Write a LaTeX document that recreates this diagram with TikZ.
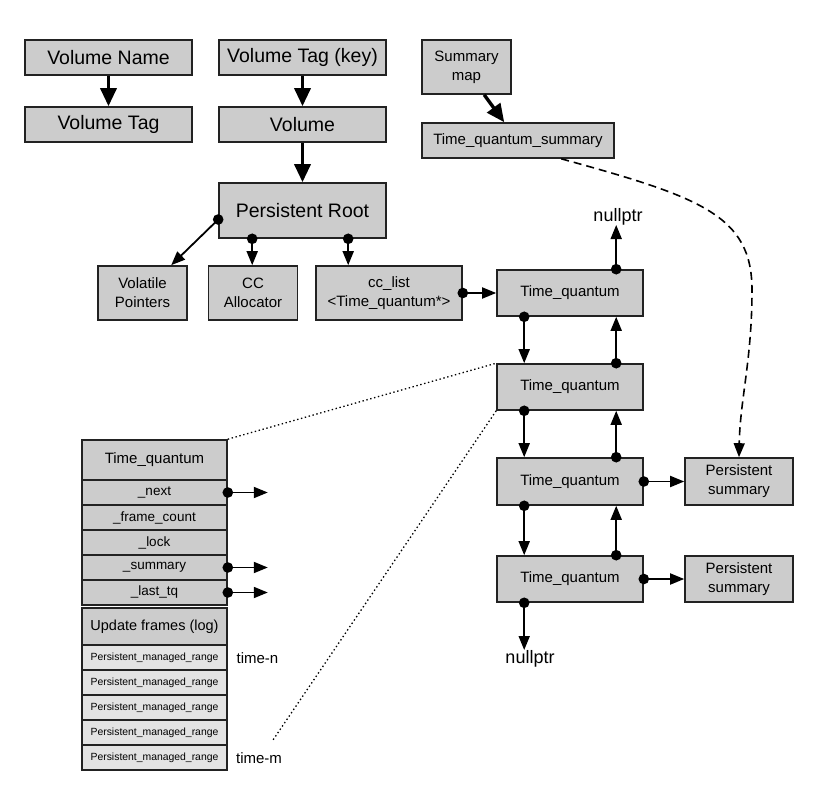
\documentclass[tikz,border=0pt]{standalone}
\usepackage{fontspec}
\setmainfont{Liberation Sans}
\usetikzlibrary{arrows.meta,calc}
\definecolor{boxgray}{HTML}{CCCCCC}
\definecolor{rowgray}{HTML}{E3E3E3}
\definecolor{edgec}{HTML}{222222}
\begin{document}
\begin{tikzpicture}[x=1pt,y=-1pt,
  box/.style={draw=edgec, fill=boxgray, line width=1.6pt, inner sep=0pt, align=center, text=black},
  lbox/.style={box, fill=rowgray},
  sz/.style 2 args={minimum width=#1pt, minimum height=#2pt},
  big/.style={font=\fontsize{19.5}{23}\selectfont},
  mid/.style={font=\fontsize{15}{19}\selectfont},
  fld/.style={font=\fontsize{13.5}{16}\selectfont},
  tiny/.style={font=\fontsize{10.4}{12}\selectfont},
  nul/.style={font=\fontsize{18}{20}\selectfont, inner sep=0pt},
  lbl/.style={font=\fontsize{15}{18}\selectfont, inner sep=0pt},
  heavy/.style={line width=3.4pt, draw=black, -{Triangle[length=18pt,width=16pt]}},
  ptr/.style={line width=1.8pt, draw=black, {Circle[length=10.5pt]}-{Triangle[length=14pt,width=11pt]}, shorten <=-5.25pt},
  dashptr/.style={line width=1.6pt, draw=black, dash pattern=on 8pt off 5pt, -{Triangle[length=14pt,width=11pt]}},
  dots/.style={line width=1.3pt, draw=black, dash pattern=on 1.4pt off 2.6pt}
]
\useasboundingbox (0,0) rectangle (830,808);

% top-left group
\node[box,big,sz={167}{35}] (vname) at (108.5,57.5) {Volume Name};
\node[box,big,sz={167}{35}] (vtag) at (108.5,124.5) {Volume Tag};
\node[box,big,sz={167}{35}] (vtkey) at (302.5,57.5) {Volume Tag (key)};
\node[box,big,sz={167}{35}] (vol) at (302.5,124.5) {Volume};
\node[box,big,sz={167}{55}] (proot) at (302.5,210.5) {Persistent Root};
\node[box,mid,sz={89}{54}] (vptr) at (142.5,293) {Volatile\\Pointers};
\node[box,mid,sz={89}{54}] (cca) at (253,293) {CC\\Allocator};
\node[box,mid,sz={146}{54}] (cclist) at (389,293) {cc\_list\\<Time\_quantum*>};

% summary
\node[box,mid,sz={89}{54}] (smap) at (466.5,67) {Summary\\map};
\node[box,mid,sz={192}{35}] (tqs) at (518,140.5) {Time\_quantum\_summary};

% chain
\node[box,mid,sz={146}{46}] (tq1) at (570,293) {Time\_quantum};
\node[box,mid,sz={146}{46}] (tq2) at (570,387) {Time\_quantum};
\node[box,mid,sz={146}{47}] (tq3) at (570,481.5) {Time\_quantum};
\node[box,mid,sz={146}{46}] (tq4) at (570,579) {Time\_quantum};
\node[box,mid,sz={108}{47}] (ps1) at (739,481.5) {Persistent\\summary};
\node[box,mid,sz={108}{46}] (ps2) at (739,579) {Persistent\\summary};
\node[nul,anchor=south] (null1) at (618,225) {nullptr};
\node[nul,anchor=north] (null2) at (530,650) {nullptr};

% table
\node[box,mid,sz={145}{40}] (th) at (154.5,460) {Time\_quantum};
\node[box,fld,sz={145}{25}] (fnext) at (154.5,492.5) {\_next};
\node[box,fld,sz={145}{25}] (ffc) at (154.5,517.5) {\_frame\_count};
\node[box,fld,sz={145}{25}] (flock) at (154.5,542.5) {\_lock};
\node[box,fld,sz={145}{25}] (fsum) at (154.5,567.5) {\_summary};
\node[box,fld,sz={145}{25}] (flast) at (154.5,592.5) {\_last\_tq};
\node[box,font=\fontsize{14.5}{17}\selectfont,sz={145}{37}] (uf) at (154.5,626.5) {Update frames (log)};
\node[lbox,tiny,sz={145}{25}] (r1) at (154.5,657.5) {Persistent\_managed\_range};
\node[lbox,tiny,sz={145}{25}] (r2) at (154.5,682.5) {Persistent\_managed\_range};
\node[lbox,tiny,sz={145}{25}] (r3) at (154.5,707.5) {Persistent\_managed\_range};
\node[lbox,tiny,sz={145}{25}] (r4) at (154.5,732.5) {Persistent\_managed\_range};
\node[lbox,tiny,sz={145}{25}] (r5) at (154.5,757.5) {Persistent\_managed\_range};
\node[lbl] (tn) at (257.5,658) {time-n};
\node[lbl] (tm) at (259,758) {time-m};

% anchor points
\coordinate (pa) at ($(proot.west)+(0,9)$);
\coordinate (pb) at ($(proot.south west)+(34,0)$);
\coordinate (pc) at ($(proot.south west)+(130,0)$);
\coordinate (vpt) at ($(vptr.north west)+(74,0)$);
\coordinate (sma) at ($(smap.south west)+(63,0)$);
\coordinate (tqa) at ($(tqs.north west)+(83,0)$);
\coordinate (tqb) at ($(tqs.south west)+(140,0)$);
\foreach \i in {1,2,3,4}{
  \coordinate (d\i t) at ($(tq\i.north west)+(28,0)$);
  \coordinate (d\i b) at ($(tq\i.south west)+(28,0)$);
  \coordinate (u\i t) at ($(tq\i.north west)+(120,0)$);
  \coordinate (u\i b) at ($(tq\i.south west)+(120,0)$);
}

% heavy arrows
\draw[heavy] (vname) -- (vtag);
\draw[heavy] (vtkey) -- (vol);
\draw[heavy] (vol) -- (proot);
\draw[heavy] (sma) -- (tqa);

% persistent root pointers
\draw[ptr] (pa) -- (vpt);
\draw[ptr] (pb) -- (pb |- cca.north);
\draw[ptr] (pc) -- (pc |- cclist.north);
\draw[ptr] (cclist.east) -- (cclist.east -| tq1.west);

% chain links
\draw[ptr] (u1t) -- (u1t |- null1.south);
\draw[ptr] (d1b) -- (d2t);
\draw[ptr] (u2t) -- (u1b);
\draw[ptr] (d2b) -- (d3t);
\draw[ptr] (u3t) -- (u2b);
\draw[ptr] (d3b) -- (d4t);
\draw[ptr] (u4t) -- (u3b);
\draw[ptr] (d4b) -- (d4b |- null2.north);
\draw[ptr] (tq3.east) -- (ps1.west);
\draw[ptr] (tq4.east) -- (ps2.west);

% dashed summary link
\draw[dashptr] (tqb) .. controls (700,197) and (752,215) .. (752,290)
  .. controls (752,360) and (740,400) .. (ps1.north);

% table pointers
\coordinate (e1) at ($(fnext.east)+(40,0)$);
\coordinate (e2) at ($(fsum.east)+(40,0)$);
\coordinate (e3) at ($(flast.east)+(40,0)$);
\draw[ptr] (fnext.east) -- (e1);
\draw[ptr] (fsum.east) -- (e2);
\draw[ptr] (flast.east) -- (e3);

% zoom lines
\coordinate (dend) at (273,740);
\draw[dots] (th.north east) -- (tq2.north west);
\draw[dots] (tq2.south west) -- (dend);
\end{tikzpicture}
\end{document}
